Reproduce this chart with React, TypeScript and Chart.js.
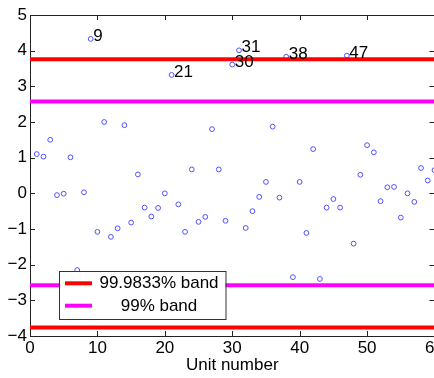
import React, { useEffect, useRef } from "react";
import { Chart, registerables } from "chart.js";

Chart.register(...registerables);

// Standardised residual for each unit
const unitNumbers = [
  1, 2, 3, 4, 5, 6, 7, 8, 9, 10, 11, 12, 13, 14, 15, 16, 17, 18, 19, 20,
  21, 22, 23, 24, 25, 26, 27, 28, 29, 30, 31, 32, 33, 34, 35, 36, 37, 38, 39, 40,
  41, 42, 43, 44, 45, 46, 47, 48, 49, 50, 51, 52, 53, 54, 55, 56, 57, 58, 59, 60,
];
const residuals = [
  1.1, 1.03, 1.5, -0.05, -0.01, 1.01, -2.15, 0.03, 4.33, -1.08,
  2.0, -1.22, -0.98, 1.91, -0.82, 0.53, -0.4, -0.65, -0.41, 0.0,
  3.32, -0.31, -1.08, 0.67, -0.8, -0.66, 1.8, 0.67, -0.77, 3.61,
  4.01, -0.97, -0.5, -0.1, 0.32, 1.87, -0.12, 3.83, -2.35, 0.32,
  -1.11, 1.24, -2.4, -0.4, -0.16, -0.4, 3.86, -1.41, 0.52, 1.35,
  1.15, -0.22, 0.17, 0.18, -0.68, 0.0, -0.24, 0.71, 0.36, 0.65,
];
// Units annotated with their number
const labelledUnits = [9, 21, 30, 31, 38, 47];

// Confidence bands (two-sided normal quantiles)
const bandNames = ["99.9833% band", "99% band"];
const bandLimits = [3.7589, 2.5758];
const bandColors = ["#ff0000", "#ff00ff"];

const xRange = [0, 60];
const yRange = [-4, 5];

const FONT = '"Liberation Sans", Arial, Helvetica, sans-serif';
const FONT_SIZE = 17;

const framePlugin = {
  id: "frame",
  beforeDatasetsDraw(chart: any) {
    const { ctx, chartArea, scales } = chart;
    const { left, right, top, bottom } = chartArea;
    ctx.save();
    ctx.strokeStyle = "#222";
    ctx.lineWidth = 1;
    ctx.beginPath();
    ctx.moveTo(left, Math.round(top) + 0.5);
    ctx.lineTo(right, Math.round(top) + 0.5);
    const tick = 5;
    scales.x.ticks.forEach((t: any) => {
      const px = Math.round(scales.x.getPixelForValue(t.value)) + 0.5;
      ctx.moveTo(px, bottom);
      ctx.lineTo(px, bottom - tick);
      ctx.moveTo(px, top);
      ctx.lineTo(px, top + tick);
    });
    scales.y.ticks.forEach((t: any) => {
      const py = Math.round(scales.y.getPixelForValue(t.value)) + 0.5;
      ctx.moveTo(left, py);
      ctx.lineTo(left + tick, py);
      ctx.moveTo(right, py);
      ctx.lineTo(right - tick, py);
    });
    ctx.stroke();
    ctx.restore();
  },
  afterDatasetsDraw(chart: any) {
    const { ctx, chartArea, scales } = chart;
    const { left, bottom } = chartArea;
    ctx.save();
    ctx.font = `${FONT_SIZE}px ${FONT}`;
    ctx.fillStyle = "#000";
    ctx.textAlign = "left";
    ctx.textBaseline = "alphabetic";
    labelledUnits.forEach((u) => {
      const idx = unitNumbers.indexOf(u);
      const px = scales.x.getPixelForValue(unitNumbers[idx]);
      const py = scales.y.getPixelForValue(residuals[idx]);
      ctx.fillText(String(u), px + 2.5, py + 2);
    });

    // legend box inside the axes, lower left
    const bx = left + 29;
    const by = bottom - 65;
    const bw = 166.5;
    const bh = 48;
    ctx.fillStyle = "#fff";
    ctx.fillRect(bx, by, bw, bh);
    ctx.strokeStyle = "#333";
    ctx.lineWidth = 1;
    ctx.strokeRect(Math.round(bx) + 0.5, Math.round(by) + 0.5, bw, bh);
    const entries = chart.data.datasets.filter((d: any) => d.label);
    entries.forEach((d: any, i: number) => {
      const ry = by + 12.3 + i * 22.4;
      ctx.strokeStyle = d.borderColor;
      ctx.lineWidth = d.borderWidth;
      ctx.beginPath();
      ctx.moveTo(bx + 6, ry);
      ctx.lineTo(bx + 33, ry);
      ctx.stroke();
      ctx.fillStyle = "#000";
      ctx.textAlign = "center";
      ctx.textBaseline = "middle";
      ctx.fillText(d.label, bx + 100, ry + 0.5);
    });
    ctx.restore();
  },
};

export default function App() {
  const canvasRef = useRef<HTMLCanvasElement | null>(null);

  useEffect(() => {
    if (!canvasRef.current) return;
    const bandLine = (value: number, color: string, label: string) => ({
      type: "line" as const,
      label,
      data: [
        { x: xRange[0], y: value },
        { x: xRange[1], y: value },
      ],
      borderColor: color,
      backgroundColor: color,
      borderWidth: 4,
      pointRadius: 0,
      fill: false,
    });
    const datasets: any[] = [
      bandLine(bandLimits[0], bandColors[0], bandNames[0]),
      bandLine(-bandLimits[0], bandColors[0], ""),
      bandLine(bandLimits[1], bandColors[1], bandNames[1]),
      bandLine(-bandLimits[1], bandColors[1], ""),
      {
        type: "scatter" as const,
        label: "",
        data: unitNumbers.map((u, i) => ({ x: u, y: residuals[i] })),
        showLine: false,
        pointStyle: "circle",
        pointRadius: 2.4,
        pointBorderWidth: 1,
        borderColor: "#5050ff",
        backgroundColor: "rgba(0,0,0,0)",
      },
    ];
    const tickFont = { family: FONT, size: FONT_SIZE };
    const chart = new Chart(canvasRef.current, {
      type: "scatter",
      data: { datasets },
      plugins: [framePlugin],
      options: {
        animation: false,
        responsive: false,
        maintainAspectRatio: false,
        layout: { padding: { top: 15, right: 25.5, bottom: 0, left: 0 } },
        plugins: {
          legend: { display: false },
          tooltip: { enabled: false },
        },
        scales: {
          x: {
            type: "linear",
            min: xRange[0],
            max: xRange[1],
            ticks: {
              stepSize: 10,
              font: tickFont,
              color: "#000",
              padding: 2,
              maxRotation: 0,
              autoSkip: false,
            },
            grid: { display: false, drawTicks: false },
            border: { display: true, color: "#222", width: 1 },
            title: {
              display: true,
              text: "Unit number",
              font: tickFont,
              color: "#000",
              padding: { top: 0, bottom: 2 },
            },
            afterFit: (s: any) => {
              s.height = 42;
            },
          },
          y: {
            type: "linear",
            min: yRange[0],
            max: yRange[1],
            ticks: {
              stepSize: 1,
              font: tickFont,
              color: "#000",
              padding: 3,
              callback: (v: any) => (Number(v) < 0 ? "\u2212" + Math.abs(Number(v)) : String(v)),
            },
            grid: { display: false, drawTicks: false },
            border: { display: true, color: "#222", width: 1 },
            afterFit: (s: any) => {
              s.width = 30;
            },
          },
        },
      },
    });
    return () => chart.destroy();
  }, []);

  return (
    <div
      style={{
        position: "fixed",
        left: 0,
        top: 0,
        width: 434,
        height: 378,
        overflow: "hidden",
        background: "#fff",
      }}
    >
      <canvas ref={canvasRef} width={460} height={378} style={{ display: "block" }} />
    </div>
  );
}
